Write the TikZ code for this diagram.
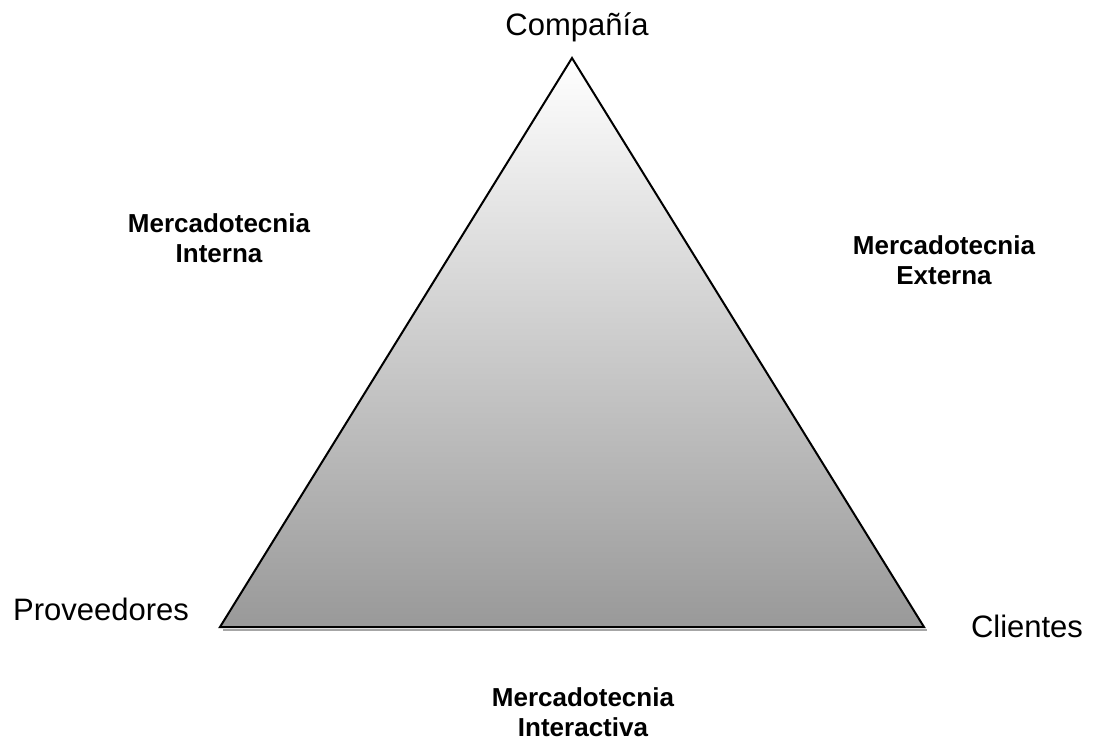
\documentclass[tikz,border=0pt]{standalone}
\usepackage{fontspec}
\setmainfont{Liberation Sans}
\begin{document}
\begin{tikzpicture}[x=1pt,y=-1pt,
  reglabel/.style={inner sep=0pt,anchor=base,font=\fontsize{31}{36}\selectfont},
  boldlabel/.style={inner sep=0pt,anchor=center,align=center,font=\fontsize{26}{30}\selectfont\bfseries},
  edge/.style={line width=2pt,line join=miter}]
\useasboundingbox (0,0) rectangle (1096,742);
\coordinate (apex) at (572,58);
\coordinate (bl) at (220,627);
\coordinate (br) at (924,627);
% shadow under base
\draw[line width=2.5pt,gray!70] ([xshift=3pt,yshift=-3pt]bl) -- ([xshift=3pt,yshift=-3pt]br);
\shade[top color=white,bottom color={rgb,255:red,153;green,153;blue,153}] (apex) -- (bl) -- (br) -- cycle;
\draw[edge] (apex) -- (bl) -- (br) -- cycle;
\node[reglabel] (comp) at (577,35) {Compañía};
\node[reglabel] (prov) at (101,620) {Proveedores};
\node[reglabel] (cli) at (1027,637) {Clientes};
\node[boldlabel] (interna) at (219,238.5) {Mercadotecnia\\Interna};
\node[boldlabel] (externa) at (944,260.5) {Mercadotecnia\\Externa};
\node[boldlabel] (interactiva) at (583,712.5) {Mercadotecnia\\Interactiva};
\end{tikzpicture}
\end{document}
